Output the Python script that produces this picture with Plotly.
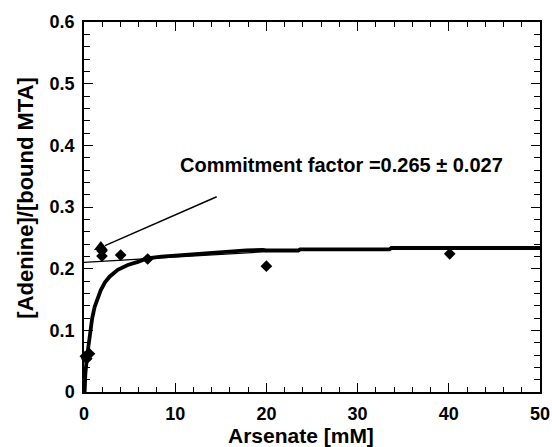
import plotly.graph_objects as go

# Data points (diamonds)
arsenate_mM = [0.15, 0.3, 0.6, 1.97, 1.97, 4.02, 6.98, 20.0, 40.1]
adenine_ratio = [0.058, 0.054, 0.062, 0.2205, 0.229, 0.222, 0.2157, 0.204, 0.224]

# Triangle point
tri_x = [1.85]
tri_y = [0.235]

# Fitted hyperbolic curve
fit_x = [0.07, 0.15, 0.33, 0.5, 0.69, 0.9, 1.17, 1.5, 1.83, 2.3, 2.8, 3.7, 4.8, 5.9, 6.9,
         8.5, 10.5, 12.5, 14.2, 16.0, 17.8, 19.6, 20.0, 23.5, 23.7, 33.5, 33.7, 50.0]
fit_y = [0.0, 0.03, 0.057, 0.08, 0.1, 0.12, 0.138, 0.153, 0.165, 0.178, 0.187, 0.198, 0.206,
         0.211, 0.2167, 0.2195, 0.222, 0.2245, 0.2265, 0.228, 0.2298, 0.2305, 0.2295, 0.2295,
         0.2312, 0.2312, 0.2335, 0.2335]

# Thin linear extrapolation line
lin_x = [0.0, 20.0]
lin_y = [0.2103, 0.2275]

# Pointer line to the triangle
ptr_x = [14.55, 2.3]
ptr_y = [0.3167, 0.2373]

label_text = "Commitment factor =0.265 ± 0.027"
label_pos = (28.2, 0.368)

x_title = "Arsenate [mM]"
y_title = "[Adenine]/[bound MTA]"

x_ticks = [0, 10, 20, 30, 40, 50]
y_ticks = [0, 0.1, 0.2, 0.3, 0.4, 0.5, 0.6]
y_ticklabels = ["0", "0.1", "0.2", "0.3", "0.4", "0.5", "0.6"]

FONT = "Liberation Sans, Arial, Helvetica, sans-serif"

fig = go.Figure()
fig.add_trace(go.Scatter(x=lin_x, y=lin_y, mode="lines",
                         line=dict(color="black", width=1.3), showlegend=False, hoverinfo="skip"))
fig.add_trace(go.Scatter(x=fit_x, y=fit_y, mode="lines",
                         line=dict(color="black", width=3.8), showlegend=False))
fig.add_trace(go.Scatter(x=ptr_x, y=ptr_y, mode="lines",
                         line=dict(color="black", width=1.5), showlegend=False, hoverinfo="skip"))
fig.add_trace(go.Scatter(x=arsenate_mM, y=adenine_ratio, mode="markers",
                         marker=dict(symbol="diamond", size=9, color="black"),
                         showlegend=False, cliponaxis=False))
fig.add_trace(go.Scatter(x=tri_x, y=tri_y, mode="markers",
                         marker=dict(symbol="triangle-up", size=12, color="black"),
                         showlegend=False, cliponaxis=False))

fig.add_annotation(x=label_pos[0], y=label_pos[1], text="<b>" + label_text + "</b>",
                   showarrow=False, xanchor="center", yanchor="middle",
                   font=dict(family=FONT, size=20, color="black"))

# Axis titles (placed slightly off-centre as in the reference)
fig.add_annotation(xref="paper", yref="paper", x=0.4748, y=-0.118,
                   text="<b>" + x_title + "</b>", showarrow=False,
                   xanchor="center", yanchor="middle",
                   font=dict(family=FONT, size=21, color="black"))
fig.add_annotation(xref="paper", yref="paper", x=-0.129, y=0.5257,
                   text="<b>" + y_title + "</b>", showarrow=False, textangle=-90,
                   xanchor="center", yanchor="middle",
                   font=dict(family=FONT, size=22, color="black"))

axis_common = dict(
    showgrid=False, zeroline=False, showline=True, linecolor="black", linewidth=1.5,
    mirror="allticks", ticks="inside", tickcolor="black", tickwidth=1.3, ticklen=9,
    tickfont=dict(family=FONT, size=18, color="black", weight=700), automargin=False,
)

fig.update_xaxes(range=[0, 50], tickvals=x_ticks,
                 ticktext=["<b>%s</b>" % v for v in x_ticks], ticklabelstandoff=5,
                 minor=dict(dtick=2, ticks="inside", ticklen=5, tickcolor="black", tickwidth=1.2),
                 **axis_common)
fig.update_yaxes(range=[0, 0.6], tickvals=y_ticks,
                 ticktext=["<b>%s</b>" % t for t in y_ticklabels], ticklabelstandoff=4,
                 minor=dict(dtick=0.02, ticks="inside", ticklen=6, tickcolor="black", tickwidth=1.2),
                 **axis_common)

fig.update_layout(width=552, height=447, margin=dict(l=84, r=12, t=22, b=55),
                  plot_bgcolor="white", paper_bgcolor="white")

fig.write_html("out.html", config={"displayModeBar": False},
               post_script="document.body.style.margin='0';")
